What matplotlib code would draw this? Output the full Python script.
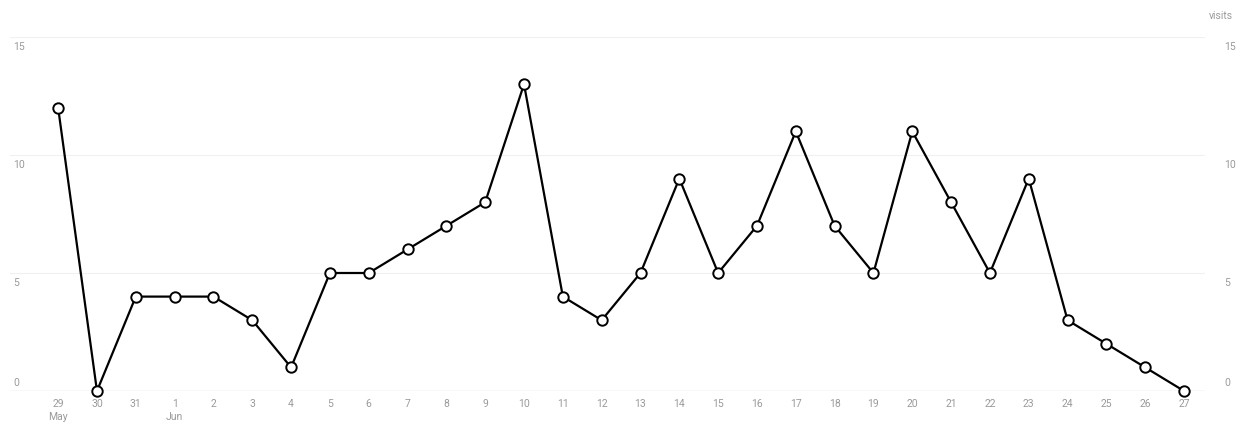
import matplotlib
matplotlib.use("Agg")
import matplotlib.pyplot as plt

days = ["29", "30", "31", "1", "2", "3", "4", "5", "6", "7", "8", "9", "10", "11",
        "12", "13", "14", "15", "16", "17", "18", "19", "20", "21", "22", "23",
        "24", "25", "26", "27"]
months = {"29": "May", "1": "Jun"}
visits = [12, 0, 4, 4, 4, 3, 1, 5, 5, 6, 7, 8, 13, 4, 3, 5, 9, 5, 7, 11, 7, 5,
          11, 8, 5, 9, 3, 2, 1, 0]
y_ticks = [0, 5, 10, 15]

plt.rcParams['font.family'] = ['Roboto', 'DejaVu Sans']
label_color = "#9a9a9a"

fig = plt.figure(figsize=(12.39, 4.28), dpi=100)
ax = fig.add_axes([10 / 1239, 1 - 391 / 428, 1195 / 1239, 354 / 428])

x = list(range(len(days)))
ax.plot(x, visits, color="black", linewidth=1.6, marker="o", markersize=7.5,
        markerfacecolor="white", markeredgecolor="black", markeredgewidth=1.4,
        clip_on=False, zorder=3)

ax.set_xlim(-1.24, 29.54)
ax.set_ylim(0, 15)

for v in y_ticks[1:]:
    ax.axhline(v, color="#f0f0f0", linewidth=0.8, zorder=0)
ax.axhline(0, color="#dcdcdc", linewidth=1.0, zorder=1)

for s in ax.spines.values():
    s.set_visible(False)

ax.set_xticks(x)
ax.set_xticklabels([d + ("\n" + months[d] if d in months else "") for d in days],
                   fontsize=7.5, color=label_color, linespacing=1.3)
ax.tick_params(axis="x", length=0, pad=6)
ax.set_yticks([])

# axis labels sit a little under their gridline, the zero one just above the base
ytr = ax.get_yaxis_transform()
for v in y_ticks:
    dy = 6 if v == 0 else -7
    ax.annotate(str(v), (0.003, v), xycoords=ytr, xytext=(0, dy),
                textcoords="offset points", fontsize=7.5, color=label_color,
                ha="left", va="center")
    ax.annotate(str(v), (1.016, v), xycoords=ytr, xytext=(0, dy),
                textcoords="offset points", fontsize=7.5, color=label_color,
                ha="left", va="center", annotation_clip=False)

fig.text(1233 / 1239, 1 - 16 / 428, "visits", fontsize=7.5, color=label_color,
         ha="right", va="center")

fig.savefig("out.png", dpi=100, facecolor="white")
